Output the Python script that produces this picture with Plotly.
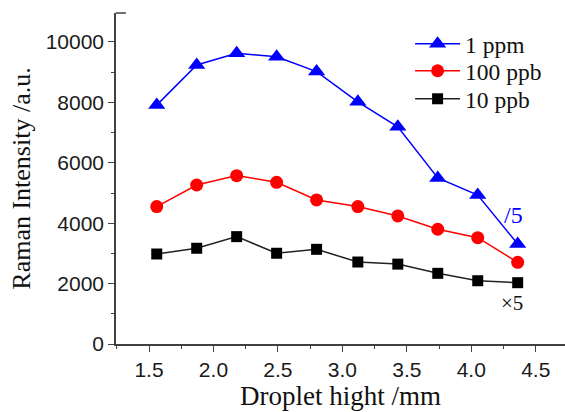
import plotly.graph_objects as go

# Droplet height (mm) and Raman intensity for three concentrations
height_mm = [1.56, 1.87, 2.18, 2.49, 2.80, 3.12, 3.43, 3.74, 4.05, 4.36]
ppm_1 = [7910, 9240, 9630, 9510, 9020, 8020, 7190, 5500, 4930, 3310]      # divided by 5
ppb_100 = [4550, 5265, 5575, 5355, 4770, 4550, 4240, 3800, 3520, 2705]
ppb_10 = [2980, 3170, 3555, 3005, 3135, 2715, 2645, 2340, 2095, 2030]     # multiplied by 5

series_names = ["1 ppm", "100 ppb", "10 ppb"]
series_colors = ["#0000ff", "#ff0000", "#000000"]

serif = "Liberation Serif"
sans = "Liberation Sans"

fig = go.Figure()

fig.add_trace(go.Scatter(
    x=height_mm, y=ppm_1, name=series_names[0], mode="lines+markers", legend="legend",
    line=dict(color=series_colors[0], width=1.5),
    marker=dict(symbol="triangle-up", size=15, color=series_colors[0]),
))
fig.add_trace(go.Scatter(
    x=height_mm, y=ppb_100, name=series_names[1], mode="lines+markers", legend="legend2",
    line=dict(color=series_colors[1], width=1.5),
    marker=dict(symbol="circle", size=13, color=series_colors[1]),
))
fig.add_trace(go.Scatter(
    x=height_mm, y=ppb_10, name=series_names[2], mode="lines+markers", legend="legend3",
    line=dict(color="#222222", width=1.5),
    marker=dict(symbol="square", size=11, color=series_colors[2]),
))

axis_color = "#404040"

# one legend row per series, stacked in the upper right
def legend_row(y):
    return dict(
        x=0.655, y=y, xanchor="left", yanchor="middle",
        font=dict(family=serif, size=23.5, color="#111111"),
        bgcolor="rgba(0,0,0,0)", borderwidth=0, itemwidth=45,
    )

fig.update_layout(
    width=565, height=412,
    margin=dict(l=116, r=0, t=13, b=68),
    plot_bgcolor="white", paper_bgcolor="white",
    showlegend=True,
    legend=legend_row((344 - 44) / 331),
    legend2=legend_row((344 - 71) / 331),
    legend3=legend_row((344 - 99) / 331),
    xaxis=dict(
        range=[1.244, 4.727],
        tickmode="linear", tick0=1.5, dtick=0.5, tickformat=".1f",
        ticks="outside", ticklen=6, tickwidth=1.3, tickcolor=axis_color,
        minor=dict(dtick=0.25, tick0=1.5, ticks="outside", ticklen=3, tickcolor=axis_color, showgrid=False),
        showline=True, linecolor=axis_color, linewidth=1.5,
        showgrid=False, zeroline=False,
        tickfont=dict(family=sans, size=21, color="#1a1a1a"),
        title=dict(text="Droplet hight /mm", font=dict(family=serif, size=27, color="#111111"), standoff=4),
    ),
    yaxis=dict(
        range=[0, 10960],
        tickmode="linear", tick0=0, dtick=2000, tickformat="d",
        ticks="outside", ticklen=6, tickwidth=1.3, tickcolor=axis_color,
        minor=dict(dtick=1000, tick0=0, ticks="outside", ticklen=3, tickcolor=axis_color, showgrid=False),
        showline=True, linecolor=axis_color, linewidth=1.5,
        showgrid=False, zeroline=False,
        tickfont=dict(family=sans, size=21, color="#1a1a1a"),
        title=dict(text="Raman Intensity /a.u.", font=dict(family=serif, size=26, color="#111111"), standoff=8),
    ),
)

# short cap at the top of the y axis
fig.add_shape(type="line", xref="paper", yref="paper",
              x0=0, x1=0.022, y0=1, y1=1,
              line=dict(color=axis_color, width=1.5))

# scale factor notes
fig.add_annotation(x=4.33, y=4280, text="/5", showarrow=False,
                   font=dict(family=serif, size=24, color="#0000ff"))
fig.add_annotation(x=4.316, y=1370, text="×5", showarrow=False,
                   font=dict(family=serif, size=21, color="#111111"))

fig.write_html("out.html")
